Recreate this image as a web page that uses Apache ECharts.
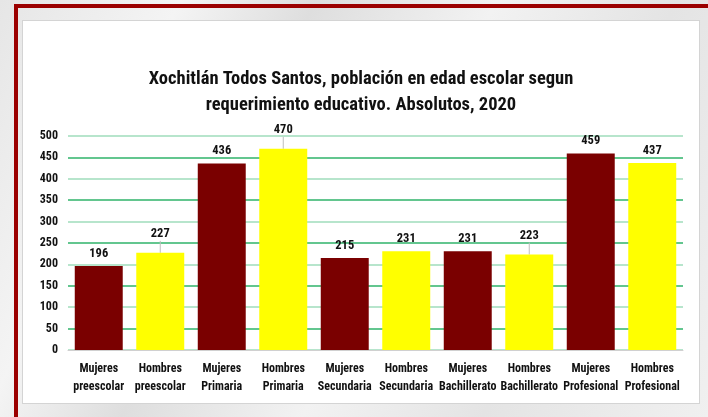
<!DOCTYPE html>
<html>
<head>
<meta charset="utf-8">
<script src="https://cdn.jsdelivr.net/npm/echarts@6/dist/echarts.min.js"></script>
<style>
    html, body { margin: 0; padding: 0; }
    body {
        width: 708px; height: 417px; overflow: hidden; position: relative;
        background: linear-gradient(115deg, #e6e6e6 0%, #f4f4f4 20%, #dedede 35%, #f2f2f2 55%, #e4e4e4 75%, #f0f0f0 100%);
    }
    #frame-top { position: absolute; left: 14px; top: 4px; width: 694px; height: 4px; background: #9b0000; }
    #frame-left { position: absolute; left: 14px; top: 4px; width: 4px; height: 413px; background: #9b0000; }
    #panel {
        position: absolute; left: 22px; top: 20px; width: 676px; height: 382px;
        background: #fff; border: 1px solid #d4d4d4;
    }
    #chart { width: 676px; height: 382px; }
</style>
</head>
<body>
<div id="frame-top"></div>
<div id="frame-left"></div>
<div id="panel"><div id="chart"></div></div>
<script>
    var categories = [
        'Mujeres\npreescolar', 'Hombres\npreescolar',
        'Mujeres\nPrimaria', 'Hombres\nPrimaria',
        'Mujeres\nSecundaria', 'Hombres\nSecundaria',
        'Mujeres\nBachillerato', 'Hombres\nBachillerato',
        'Mujeres\nProfesional', 'Hombres\nProfesional'
    ];
    var values = [196, 227, 436, 470, 215, 231, 231, 223, 459, 437];
    var yTicks = [0, 50, 100, 150, 200, 250, 300, 350, 400, 450, 500];

    var colorMujeres = '#7a0000';
    var colorHombres = '#ffff00';
    var leaderIdx = [1, 3, 7]; // etiquetas con linea guia

    var data = values.map(function (v, i) {
        var item = {
            value: v,
            itemStyle: { color: i % 2 === 0 ? colorMujeres : colorHombres }
        };
        if (leaderIdx.indexOf(i) >= 0) {
            item.label = { distance: 12 };
            item.labelLine = { show: true };
        }
        return item;
    });

    var font = 'Liberation Sans Narrow, Roboto Condensed, Roboto, sans-serif';

    var chart = echarts.init(document.getElementById('chart'));
    chart.setOption({
        animation: false,
        title: {
            text: 'Xochitlán Todos Santos, población en edad escolar segun\nrequerimiento educativo. Absolutos, 2020',
            left: 'center',
            top: 40,
            textStyle: {
                fontFamily: font,
                fontSize: 18.5,
                fontWeight: 'bold',
                color: '#111',
                lineHeight: 26
            }
        },
        grid: { left: 45, right: 16, top: 115, bottom: 53 },
        xAxis: {
            type: 'category',
            data: categories,
            axisLine: { lineStyle: { color: '#d0d0d0' } },
            axisTick: { show: false },
            axisLabel: {
                interval: 0,
                margin: 10,
                fontFamily: font,
                fontSize: 12,
                fontWeight: 'bold',
                color: '#111',
                lineHeight: 18
            }
        },
        yAxis: {
            type: 'value',
            min: yTicks[0],
            max: yTicks[yTicks.length - 1],
            interval: yTicks[1] - yTicks[0],
            axisLine: { show: false },
            axisTick: { show: false },
            axisLabel: {
                margin: 10,
                fontFamily: font,
                fontSize: 12,
                fontWeight: 'bold',
                color: '#111'
            },
            splitLine: { lineStyle: { color: ['#9fdcbb', '#2fb36a'], width: 1.5 } }
        },
        series: [{
            type: 'bar',
            data: data,
            barCategoryGap: '22%',
            label: {
                show: true,
                position: 'top',
                distance: 6,
                fontFamily: font,
                fontSize: 12.5,
                fontWeight: 'bold',
                color: '#111'
            },
            labelLine: { show: false, lineStyle: { color: '#bfbfbf', width: 1 } },
            labelLayout: function (params) {
                if (leaderIdx.indexOf(params.dataIndex) < 0) {
                    return {};
                }
                var cx = params.rect.x + params.rect.width / 2;
                return {
                    labelLinePoints: [
                        [cx, params.labelRect.y + params.labelRect.height],
                        [cx, params.rect.y]
                    ]
                };
            }
        }]
    });
</script>
</body>
</html>
